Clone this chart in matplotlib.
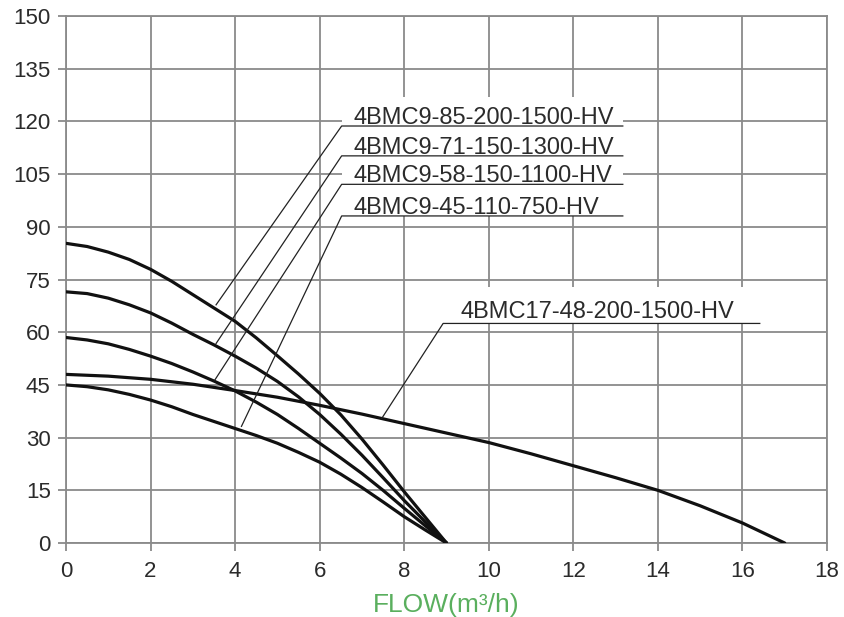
import matplotlib
matplotlib.use("Agg")
import matplotlib.pyplot as plt
import numpy as np

plt.rcParams['font.family'] = ['Liberation Sans', 'DejaVu Sans']

# flow (m3/h) and head (m)
q9 = [0, 0.5, 1, 1.5, 2, 2.5, 3, 3.5, 4, 4.5, 5, 5.5, 6, 6.5, 7, 7.5, 8, 8.5, 9]
h85 = [85.3, 84.4, 82.8, 80.7, 77.9, 74.5, 70.7, 66.9, 63.1, 58.4, 53.3, 48.1, 42.6,
       36.5, 29.6, 22.2, 14.6, 7.3, 0]
h71 = [71.5, 71, 69.7, 67.8, 65.5, 62.6, 59.4, 56.4, 53.2, 49.8, 46, 41.6, 36.6,
       31, 25, 18.6, 12.1, 6, 0]
h58 = [58.5, 57.8, 56.7, 55.1, 53.2, 51.1, 48.7, 46.1, 43.3, 40.1, 36.6, 32.6, 28.4,
       24.2, 19.8, 15, 9.9, 4.9, 0]
h45 = [45, 44.5, 43.6, 42.3, 40.7, 38.8, 36.6, 34.6, 32.6, 30.6, 28.4, 25.8, 23,
       19.6, 15.8, 11.7, 7.5, 3.7, 0]
q17 = [0, 1, 2, 3, 4, 5, 6, 7, 8, 9, 10, 11, 12, 13, 14, 15, 16, 17]
h48 = [48, 47.5, 46.6, 45.2, 43.4, 41.5, 39.2, 36.7, 34, 31.3, 28.6, 25.4, 22,
       18.6, 15, 10.6, 5.7, 0]

names = ["4BMC9-85-200-1500-HV", "4BMC9-71-150-1300-HV",
         "4BMC9-58-150-1100-HV", "4BMC9-45-110-750-HV"]
name17 = "4BMC17-48-200-1500-HV"
# leader: underline height, point on the curve
under_y = [118.7, 110.2, 102.1, 93.1]
leader_pt = [(3.55, 67.8), (3.55, 56.8), (3.52, 46.4), (4.15, 33.2)]
under17_y = 62.5
leader17_pt = (7.47, 35.5)

grid_c = '#8a8a8a'
txt_c = '#2b2b2b'

fig = plt.figure(figsize=(8.45, 6.17), dpi=100)
ax = fig.add_axes([0.0781, 0.1199, 0.9006, 0.8541])

for h in [h85, h71, h58, h45]:
    ax.plot(q9, h, color='#111111', lw=2.3, zorder=3, solid_capstyle='round')
ax.plot(q17, h48, color='#111111', lw=2.3, zorder=3, solid_capstyle='round')

# white areas behind labels
ax.add_patch(plt.Rectangle((6.52, 93.1), 13.17 - 6.52, 127 - 93.1,
                           facecolor='white', edgecolor='none', zorder=1.5))
ax.add_patch(plt.Rectangle((8.92, 62.5), 16.41 - 8.92, 73 - 62.5,
                           facecolor='white', edgecolor='none', zorder=1.5))

for name, uy, (px, py) in zip(names, under_y, leader_pt):
    ax.plot([px, 6.52, 13.17], [py, uy, uy], color='#222222', lw=0.9, zorder=4)
    ax.text(6.79, uy + 0.6, name, fontsize=17, color=txt_c, va='baseline',
            ha='left', zorder=5)
px, py = leader17_pt
ax.plot([px, 8.92, 16.41], [py, under17_y, under17_y], color='#222222', lw=0.9, zorder=4)
ax.text(9.34, under17_y + 1.5, name17, fontsize=17, color=txt_c, va='baseline',
        ha='left', zorder=5)

ax.set_xlim(0, 18)
ax.set_ylim(0, 150)
ax.set_xticks(range(0, 19, 2))
ax.set_yticks(range(0, 151, 15))
ax.set_axisbelow(True)
ax.grid(True, color=grid_c, lw=1.3)
for s in ax.spines.values():
    s.set_color(grid_c)
    s.set_linewidth(1.3)
ax.tick_params(direction='out', length=6, width=1.3, color=grid_c,
               labelsize=16, labelcolor=txt_c)
ax.tick_params(axis='x', pad=7)
ax.tick_params(axis='y', pad=5)
ax.set_xlabel("FLOW(m³/h)", fontsize=19, color='#5aaf5e', labelpad=8)

fig.savefig("out.png", dpi=100)
